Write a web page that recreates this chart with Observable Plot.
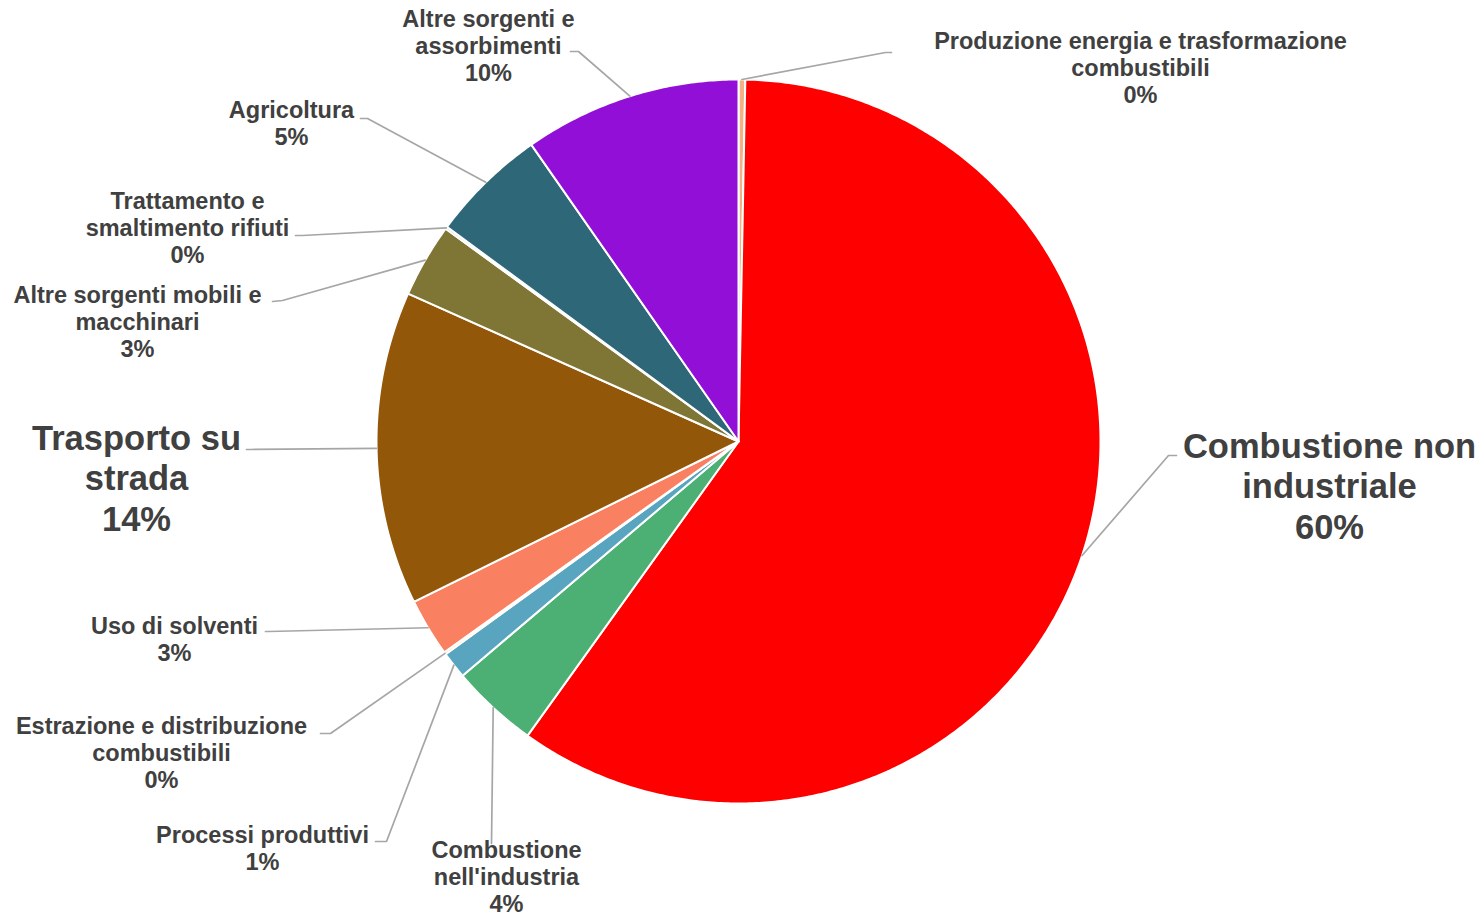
<!DOCTYPE html>
<html>
<head>
<meta charset="utf-8">
<script src="https://cdn.jsdelivr.net/npm/d3@7"></script>
<script src="https://cdn.jsdelivr.net/npm/@observablehq/plot@0.6"></script>
<style>
  html, body { margin: 0; padding: 0; background: #fff; }
</style>
</head>
<body>
<div id="chart"></div>
<script>
// ---- data ----
const categories = [
  "Produzione energia e trasformazione combustibili",
  "Combustione non industriale",
  "Combustione nell'industria",
  "Processi produttivi",
  "Estrazione e distribuzione combustibili",
  "Uso di solventi",
  "Trasporto su strada",
  "Altre sorgenti mobili e macchinari",
  "Trattamento e smaltimento rifiuti",
  "Agricoltura",
  "Altre sorgenti e assorbimenti"
];
const values = [0.3, 59.6, 3.9, 1.2, 0.1, 2.6, 14.0, 3.3, 0.1, 5.2, 9.7];

// ---- styles / layout (kept apart from data) ----
const colors = ["#f4b183", "#ff0000", "#4caf73", "#59a5c0", "#ffc000", "#f98060",
                "#925709", "#7f7535", "#a5a5a5", "#2e6878", "#920fd7"];
const wrapped = [
  "Produzione energia e trasformazione\ncombustibili",
  "Combustione non\nindustriale",
  "Combustione\nnell'industria",
  "Processi produttivi",
  "Estrazione e distribuzione\ncombustibili",
  "Uso di solventi",
  "Trasporto su\nstrada",
  "Altre sorgenti mobili e\nmacchinari",
  "Trattamento e\nsmaltimento rifiuti",
  "Agricoltura",
  "Altre sorgenti e\nassorbimenti"
];
const big = [false, true, false, false, false, false, true, false, false, false, false];
// label block centers (px)
const labelX = [1140, 1329, 506, 262, 161, 174, 136, 137, 187, 291, 488];
const labelY = [67, 485, 876, 847.5, 752, 638.5, 477, 321, 227, 122.5, 45];
// leader elbows and ends (px)
const elbowX = [885, 1168, 491, 386, 330, 268, 250, 282, 302, 367, 578];
const elbowY = [52, 455, 843, 841, 733, 631, 449, 300, 235, 118, 51];
const endX   = [891, 1176, 491, 375, 320, 265, 246, 272, 295, 360, 570];
const endY   = [52, 455, 843, 841, 733, 631, 449, 301, 235, 118, 51];

const W = 1482, H = 918;
const cx = 738, cy = 441, R = 362;

// ---- geometry from data ----
const pie = d3.pie().sort(null).value(d => d.value)(
  categories.map((name, i) => ({name, value: values[i], i}))
);
const total = d3.sum(values);
const pt = (a, r) => ({x: cx + r * Math.sin(a), y: cy - r * Math.cos(a)});

const slicePts = [];
for (const s of pie) {
  const name = s.data.name;
  slicePts.push({name, ...pt(0, 0)});
  const n = Math.max(2, Math.ceil((s.endAngle - s.startAngle) / (Math.PI / 360)));
  for (let k = 0; k <= n; k++) {
    const a = s.startAngle + (s.endAngle - s.startAngle) * k / n;
    slicePts.push({name, ...pt(a, R)});
  }
}

const leaderPts = [];
for (const s of pie) {
  const i = s.data.i;
  const m = (s.startAngle + s.endAngle) / 2;
  leaderPts.push({name: s.data.name, ...pt(m, R)});
  leaderPts.push({name: s.data.name, x: elbowX[i], y: elbowY[i]});
  leaderPts.push({name: s.data.name, x: endX[i], y: endY[i]});
}

const labels = categories.map((name, i) => ({
  name,
  text: wrapped[i] + "\n" + Math.round(values[i] / total * 100) + "%",
  x: labelX[i], y: labelY[i], big: big[i]
}));

const font = "'Liberation Sans', Arial, Helvetica, sans-serif";

const chart = Plot.plot({
  width: W, height: H, margin: 0,
  x: {domain: [0, W], range: [0, W], axis: null},
  y: {domain: [0, H], range: [0, H], axis: null},
  color: {domain: categories, range: colors},
  style: {fontFamily: font, background: "#fff"},
  marks: [
    Plot.line(slicePts, {x: "x", y: "y", z: "name", fill: "name", stroke: "white",
      strokeWidth: 2, curve: "linear-closed", strokeLinejoin: "round"}),
    Plot.line(leaderPts, {x: "x", y: "y", z: "name", stroke: "#a6a6a6", strokeWidth: 1.7}),
    Plot.text(labels.filter(d => !d.big), {x: "x", y: "y", text: "text",
      fontSize: 23.5, fontWeight: "bold", fill: "#404040", lineHeight: 1.15,
      textAnchor: "middle", lineAnchor: "middle", fontFamily: font}),
    Plot.text(labels.filter(d => d.big), {x: "x", y: "y", text: "text",
      fontSize: 34.5, fontWeight: "bold", fill: "#404040", lineHeight: 1.17,
      textAnchor: "middle", lineAnchor: "middle", fontFamily: font})
  ]
});
document.getElementById("chart").appendChild(chart);
</script>
</body>
</html>
